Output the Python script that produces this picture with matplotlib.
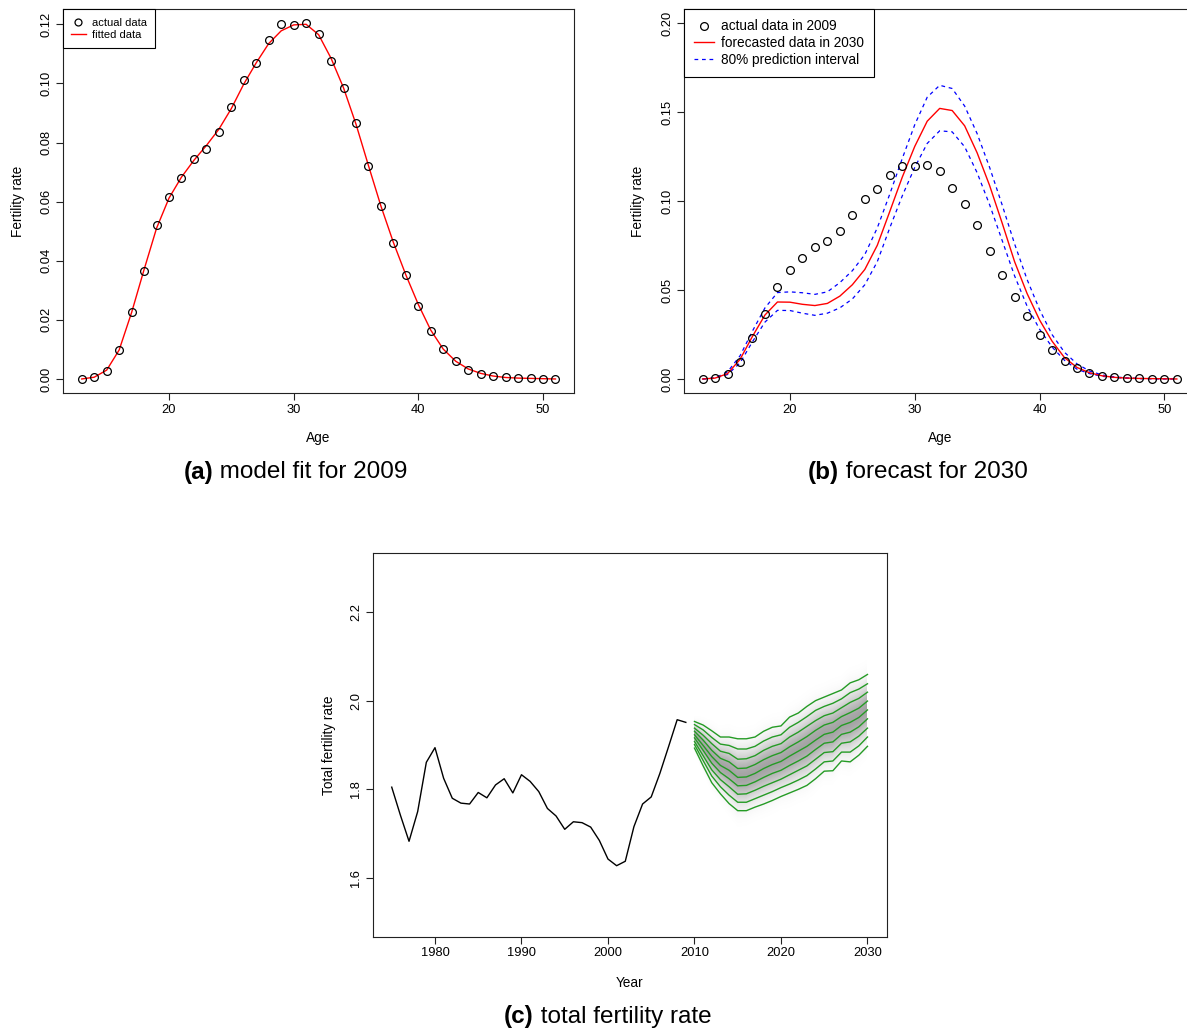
import matplotlib
matplotlib.use("Agg")
import numpy as np
import matplotlib.pyplot as plt
from matplotlib.lines import Line2D

plt.rcParams['font.family'] = ['Liberation Sans', 'DejaVu Sans']

# ---------------- data ----------------
ages = list(range(13, 52))
actual_2009 = [0.0000, 0.0005, 0.0027, 0.0097, 0.0228, 0.0365, 0.0520, 0.0615, 0.0680, 0.0745,
               0.0778, 0.0835, 0.0920, 0.1013, 0.1068, 0.1148, 0.1200, 0.1197, 0.1203, 0.1168,
               0.1075, 0.0985, 0.0865, 0.0722, 0.0585, 0.0460, 0.0353, 0.0248, 0.0161, 0.0100,
               0.0060, 0.0032, 0.0017, 0.0009, 0.0005, 0.0003, 0.0002, 0.0001, 0.0000]
fitted_2009 = [0.0000, 0.0006, 0.0030, 0.0098, 0.0225, 0.0370, 0.0510, 0.0612, 0.0683, 0.0740,
               0.0790, 0.0845, 0.0915, 0.0998, 0.1070, 0.1135, 0.1178, 0.1198, 0.1200, 0.1165,
               0.1085, 0.0985, 0.0862, 0.0722, 0.0585, 0.0462, 0.0352, 0.0252, 0.0165, 0.0101,
               0.0060, 0.0034, 0.0019, 0.0010, 0.0005, 0.0003, 0.0002, 0.0001, 0.0000]
forecast_2030 = [0.0000, 0.0005, 0.0030, 0.0110, 0.0240, 0.0360, 0.0433, 0.0432, 0.0420, 0.0413,
                 0.0425, 0.0466, 0.0530, 0.0616, 0.0752, 0.0942, 0.1135, 0.1308, 0.1450, 0.1522,
                 0.1510, 0.1424, 0.1272, 0.1088, 0.0878, 0.0660, 0.0481, 0.0332, 0.0213, 0.0120,
                 0.0065, 0.0035, 0.0018, 0.0009, 0.0005, 0.0003, 0.0002, 0.0001, 0.0000]
upper_2030 = [0.0000, 0.0006, 0.0040, 0.0130, 0.0270, 0.0400, 0.0486, 0.0490, 0.0485, 0.0476,
              0.0490, 0.0542, 0.0609, 0.0700, 0.0850, 0.1040, 0.1240, 0.1430, 0.1585, 0.1652,
              0.1634, 0.1535, 0.1380, 0.1190, 0.0980, 0.0760, 0.0560, 0.0390, 0.0250, 0.0150,
              0.0085, 0.0045, 0.0023, 0.0012, 0.0006, 0.0003, 0.0002, 0.0001, 0.0000]
lower_2030 = [0.0000, 0.0004, 0.0025, 0.0090, 0.0210, 0.0320, 0.0386, 0.0385, 0.0370, 0.0358,
              0.0370, 0.0400, 0.0450, 0.0530, 0.0660, 0.0850, 0.1030, 0.1190, 0.1325, 0.1396,
              0.1390, 0.1306, 0.1160, 0.0980, 0.0780, 0.0580, 0.0410, 0.0280, 0.0180, 0.0105,
              0.0055, 0.0030, 0.0015, 0.0008, 0.0004, 0.0002, 0.0001, 0.0001, 0.0000]

years_hist = list(range(1975, 2010))
tfr_hist = [1.805, 1.742, 1.683, 1.750, 1.861, 1.894, 1.825, 1.780, 1.769, 1.767,
            1.793, 1.781, 1.810, 1.824, 1.792, 1.833, 1.818, 1.795, 1.757, 1.740,
            1.710, 1.727, 1.725, 1.715, 1.685, 1.643, 1.628, 1.638, 1.716, 1.767,
            1.783, 1.836, 1.896, 1.957, 1.951]

years_fc = list(range(2010, 2031))
# nine forecast quantile lines, top to bottom
fan_q1 = [1.953, 1.945, 1.932, 1.918, 1.918, 1.914, 1.914, 1.918, 1.931, 1.940, 1.943,
          1.963, 1.972, 1.987, 2.000, 2.008, 2.016, 2.024, 2.040, 2.047, 2.059]
fan_q2 = [1.946, 1.934, 1.917, 1.902, 1.899, 1.891, 1.891, 1.897, 1.909, 1.918, 1.923,
          1.940, 1.951, 1.964, 1.978, 1.987, 1.994, 2.004, 2.018, 2.026, 2.038]
fan_q3 = [1.938, 1.922, 1.903, 1.886, 1.881, 1.868, 1.869, 1.876, 1.888, 1.897, 1.903,
          1.918, 1.929, 1.942, 1.955, 1.966, 1.972, 1.984, 1.996, 2.005, 2.019]
fan_q4 = [1.931, 1.911, 1.888, 1.870, 1.862, 1.847, 1.848, 1.856, 1.867, 1.876, 1.883,
          1.896, 1.907, 1.919, 1.933, 1.945, 1.951, 1.964, 1.973, 1.983, 1.999]
fan_q5 = [1.923, 1.899, 1.874, 1.854, 1.843, 1.827, 1.828, 1.836, 1.847, 1.856, 1.863,
          1.875, 1.886, 1.897, 1.911, 1.924, 1.929, 1.944, 1.951, 1.962, 1.979]
fan_q6 = [1.916, 1.888, 1.859, 1.838, 1.824, 1.808, 1.809, 1.817, 1.827, 1.836, 1.843,
          1.854, 1.864, 1.875, 1.890, 1.904, 1.907, 1.924, 1.929, 1.941, 1.959]
fan_q7 = [1.908, 1.876, 1.844, 1.822, 1.806, 1.789, 1.790, 1.798, 1.807, 1.815, 1.823,
          1.833, 1.843, 1.853, 1.868, 1.883, 1.885, 1.904, 1.907, 1.920, 1.938]
fan_q8 = [1.901, 1.865, 1.830, 1.806, 1.787, 1.771, 1.771, 1.779, 1.787, 1.795, 1.804,
          1.812, 1.821, 1.831, 1.846, 1.862, 1.864, 1.884, 1.884, 1.898, 1.918]
fan_q9 = [1.893, 1.853, 1.815, 1.790, 1.768, 1.752, 1.752, 1.760, 1.767, 1.775, 1.784,
          1.792, 1.800, 1.809, 1.824, 1.841, 1.842, 1.864, 1.862, 1.877, 1.897]
fan_lines = [fan_q1, fan_q2, fan_q3, fan_q4, fan_q5, fan_q6, fan_q7, fan_q8, fan_q9]

# ---------------- figure ----------------
W, H = 1187, 1031
fig = plt.figure(figsize=(W / 100, H / 100), dpi=100)

TICK_FS = 9.3
LAB_FS = 9.8


def style_axes(ax):
    for s in ax.spines.values():
        s.set_linewidth(0.8)
        s.set_color('#222222')
    ax.tick_params(axis='both', length=5, width=0.8, pad=2.5, labelsize=TICK_FS,
                   color='#222222')
    ax.tick_params(axis='y', labelrotation=90)
    for lab in ax.get_yticklabels():
        lab.set_va('center')


def rpad(lo, hi):
    r = hi - lo
    return lo - 0.04 * r, hi + 0.04 * r


# panel (a)
axa = fig.add_axes([62.8 / W, 1 - 393.2 / H, 511.6 / W, 384 / H])
axa.plot(ages, fitted_2009, color='#ff0000', lw=1.0)
axa.plot(ages, actual_2009, ls='none', marker='o', mfc='none', mec='black', ms=5.6, mew=0.9)
axa.set_xlim(*rpad(13, 51))
axa.set_ylim(*rpad(0, 0.1203))
axa.set_xticks([20, 30, 40, 50])
axa.set_yticks([0.00, 0.02, 0.04, 0.06, 0.08, 0.10, 0.12])
axa.set_yticklabels(['0.00', '0.02', '0.04', '0.06', '0.08', '0.10', '0.12'])
style_axes(axa)
axa.set_xlabel('Age', fontsize=LAB_FS)
axa.set_ylabel('Fertility rate', fontsize=LAB_FS)
axa.xaxis.set_label_coords(0.5, -0.1174)
axa.xaxis.label.set_va('center')
axa.yaxis.set_label_coords(-0.0876, 0.5)
axa.yaxis.label.set_va('center')
ha = [Line2D([], [], ls='none', marker='o', mfc='none', mec='black', ms=5, mew=0.9),
      Line2D([], [], color='#ff0000', lw=1.0)]
lga = axa.legend(ha, ['actual data', 'fitted data'], loc='upper left', bbox_to_anchor=(0, 1),
                 borderaxespad=0, fancybox=False, framealpha=1, edgecolor='black',
                 fontsize=8, handlelength=1.3, handletextpad=0.55, labelspacing=0.2,
                 borderpad=0.75)
lga.get_frame().set_linewidth(0.8)

# panel (b)
axb = fig.add_axes([683.6 / W, 1 - 393.2 / H, 512.2 / W, 384 / H])
axb.plot(ages, upper_2030, color='#0000ff', lw=0.9, ls=(0, (3, 3)))
axb.plot(ages, lower_2030, color='#0000ff', lw=0.9, ls=(0, (3, 3)))
axb.plot(ages, forecast_2030, color='#ff0000', lw=1.0)
axb.plot(ages, actual_2009, ls='none', marker='o', mfc='none', mec='black', ms=5.6, mew=0.9)
axb.set_xlim(*rpad(13, 51))
axb.set_ylim(*rpad(0, 0.2))
axb.set_xticks([20, 30, 40, 50])
axb.set_yticks([0.00, 0.05, 0.10, 0.15, 0.20])
axb.set_yticklabels(['0.00', '0.05', '0.10', '0.15', '0.20'])
style_axes(axb)
axb.set_xlabel('Age', fontsize=LAB_FS)
axb.set_ylabel('Fertility rate', fontsize=LAB_FS)
axb.xaxis.set_label_coords(0.5, -0.1174)
axb.xaxis.label.set_va('center')
axb.yaxis.set_label_coords(-0.0882, 0.5)
axb.yaxis.label.set_va('center')
hb = [Line2D([], [], ls='none', marker='o', mfc='none', mec='black', ms=5.6, mew=0.9),
      Line2D([], [], color='#ff0000', lw=1.0),
      Line2D([], [], color='#0000ff', lw=0.9, ls=(0, (3, 3)))]
lgb = axb.legend(hb, ['actual data in 2009', 'forecasted data in 2030', '80% prediction interval'],
                 loc='upper left', bbox_to_anchor=(0, 1), borderaxespad=0, fancybox=False,
                 framealpha=1, edgecolor='black', fontsize=LAB_FS, handlelength=1.45,
                 handletextpad=0.55, labelspacing=0.2, borderpad=0.75)
lgb.get_frame().set_linewidth(0.8)

# panel (c)
axc = fig.add_axes([372.7 / W, 1 - 936.7 / H, 513.8 / W, 383.4 / H])
# soft grey fan shading built from the quantile lines
gx = np.linspace(years_fc[0], years_fc[-1], 600)
gy = np.linspace(1.60, 2.20, 700)
cen = np.interp(gx, years_fc, fan_q5)
half = np.interp(gx, years_fc, (np.array(fan_q1) - np.array(fan_q9)) / 2.0)
half = np.maximum(half, 0.012)
z = (gy[:, None] - cen[None, :]) / half[None, :]
alpha = 0.36 * np.exp(-0.5 * (z / 0.46) ** 2)
img = np.zeros((len(gy), len(gx), 4))
img[..., 3] = alpha
axc.imshow(img, extent=(gx[0], gx[-1], gy[0], gy[-1]), origin='lower', aspect='auto',
           interpolation='bilinear', zorder=1)
for line in fan_lines:
    axc.plot(years_fc, line, color='#259b25', lw=1.0, zorder=2)
axc.plot(years_hist, tfr_hist, color='black', lw=1.0, zorder=2)
axc.set_xlim(*rpad(1975, 2030))
axc.set_ylim(*rpad(1.5, 2.3))
axc.set_xticks([1980, 1990, 2000, 2010, 2020, 2030])
axc.set_yticks([1.6, 1.8, 2.0, 2.2])
axc.set_yticklabels(['1.6', '1.8', '2.0', '2.2'])
style_axes(axc)
axc.set_xlabel('Year', fontsize=LAB_FS)
axc.set_ylabel('Total fertility rate', fontsize=LAB_FS)
axc.xaxis.set_label_coords(0.5, -0.12)
axc.xaxis.label.set_va('center')
axc.yaxis.set_label_coords(-0.0852, 0.5)
axc.yaxis.label.set_va('center')

# captions
CAP_FS = 17.5
caps = [(295.5, 472, '(a)', ' model fit for 2009'),
        (918, 472, '(b)', ' forecast for 2030'),
        (607.7, 1017, '(c)', ' total fertility rate')]
texts = []
for xc, yc, b, r in caps:
    t1 = fig.text(0, 1 - yc / H, b, fontweight='bold', fontsize=CAP_FS, ha='left', va='center')
    t2 = fig.text(0, 1 - yc / H, r, fontsize=CAP_FS, ha='left', va='center')
    texts.append((xc, yc, t1, t2))
fig.canvas.draw()
rend = fig.canvas.get_renderer()
for xc, yc, t1, t2 in texts:
    w1 = t1.get_window_extent(rend).width
    w2 = t2.get_window_extent(rend).width
    x0 = xc - (w1 + w2) / 2
    t1.set_x(x0 / W)
    t2.set_x((x0 + w1) / W)

fig.savefig('out.png', dpi=100)
